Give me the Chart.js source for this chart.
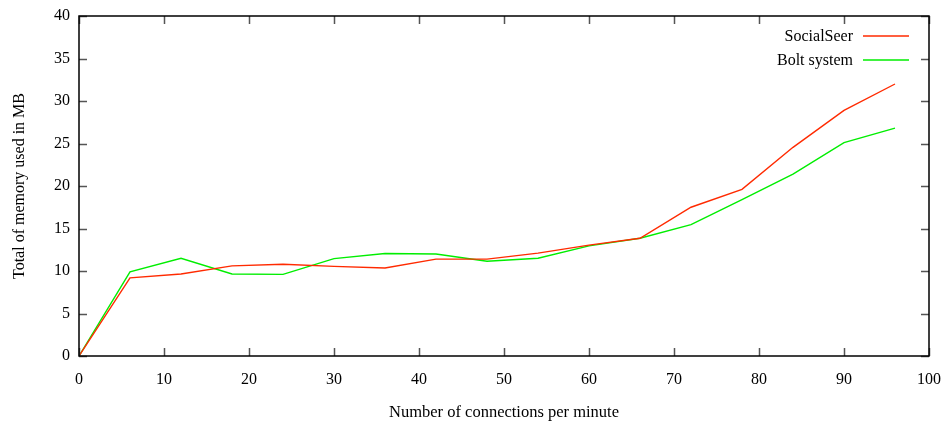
<!DOCTYPE html>
<html>
<head>
<meta charset="utf-8">
<script src="https://cdn.jsdelivr.net/npm/chart.js@4/dist/chart.umd.min.js"></script>
<style>
  html, body { margin: 0; padding: 0; background: #fff; }
  #wrap { width: 945px; height: 427px; }
</style>
</head>
<body>
<div id="wrap"><canvas id="myChart"></canvas></div>
<script>
var connections = [0, 6, 12, 18, 24, 30, 36, 42, 48, 54, 60, 66, 72, 78, 84, 90, 96];
var socialSeer = [0, 9.2, 9.65, 10.6, 10.8, 10.55, 10.35, 11.4, 11.4, 12.1, 13.05, 13.85, 17.5, 19.6, 24.55, 28.9, 32.0];
var boltSystem = [0, 9.9, 11.5, 9.65, 9.6, 11.45, 12.05, 12.0, 11.15, 11.5, 12.95, 13.85, 15.45, 18.4, 21.4, 25.1, 26.8];
var xTicks = [0, 10, 20, 30, 40, 50, 60, 70, 80, 90, 100];
var yTicks = [0, 5, 10, 15, 20, 25, 30, 35, 40];

var serif = "'Liberation Serif', 'DejaVu Serif', serif";

function toPoints(xs, ys) {
  return xs.map(function (x, i) { return { x: x, y: ys[i] }; });
}

// gnuplot style: ticks pointing into the plot on all four sides, plus legend inside
var gnuplotFrame = {
  id: "gnuplotFrame",
  afterDatasetsDraw: function (chart) {
    var ctx = chart.ctx;
    var a = chart.chartArea;
    var xs = chart.scales.x, ys = chart.scales.y;
    var len = 8;
    ctx.save();
    ctx.strokeStyle = "#555";
    ctx.lineWidth = 1.5;
    ctx.beginPath();
    xTicks.forEach(function (v) {
      var px = Math.round(xs.getPixelForValue(v)) + 0.5;
      ctx.moveTo(px, a.bottom); ctx.lineTo(px, a.bottom - len);
      ctx.moveTo(px, a.top); ctx.lineTo(px, a.top + len);
    });
    yTicks.forEach(function (v) {
      var py = Math.round(ys.getPixelForValue(v)) + 0.5;
      ctx.moveTo(a.left, py); ctx.lineTo(a.left + len, py);
      ctx.moveTo(a.right, py); ctx.lineTo(a.right - len, py);
    });
    ctx.stroke();
    ctx.strokeStyle = "#000";
    ctx.lineWidth = 1.5;
    ctx.strokeRect(a.left, a.top, a.right - a.left, a.bottom - a.top);

    // legend
    ctx.font = "16px " + serif;
    ctx.textAlign = "right";
    ctx.textBaseline = "middle";
    chart.data.datasets.forEach(function (ds, i) {
      var y = 36 + i * 24;
      ctx.fillStyle = "#000";
      ctx.fillText(ds.label, 853, y + 1);
      ctx.strokeStyle = ds.borderColor;
      ctx.lineWidth = 1.5;
      ctx.beginPath();
      ctx.moveTo(863, y); ctx.lineTo(909, y);
      ctx.stroke();
    });
    ctx.restore();
  }
};

new Chart("myChart", {
  type: "line",
  data: {
    datasets: [{
      label: "SocialSeer",
      data: toPoints(connections, socialSeer),
      borderColor: "#ff2a00",
      borderWidth: 1.4,
      pointRadius: 0,
      tension: 0
    }, {
      label: "Bolt system",
      data: toPoints(connections, boltSystem),
      borderColor: "#00ee00",
      borderWidth: 1.4,
      pointRadius: 0,
      tension: 0
    }]
  },
  options: {
    responsive: true,
    maintainAspectRatio: false,
    animation: false,
    layout: { padding: { top: 16, right: 16, left: 0, bottom: 0 } },
    plugins: {
      legend: { display: false },
      tooltip: { enabled: false }
    },
    scales: {
      x: {
        type: "linear",
        min: 0,
        max: 100,
        afterBuildTicks: function (s) { s.ticks = xTicks.map(function (v) { return { value: v }; }); },
        afterFit: function (s) { s.height = 71; s.paddingLeft = 0; s.paddingRight = 0; },
        grid: { display: false, drawTicks: false },
        border: { display: false },
        ticks: { color: "#000", font: { family: serif, size: 16 }, padding: 14, maxRotation: 0 },
        title: {
          display: true,
          text: "Number of connections per minute",
          color: "#000",
          font: { family: serif, size: 16.5 },
          padding: { top: 0, bottom: 4 }
        }
      },
      y: {
        min: 0,
        max: 40,
        afterBuildTicks: function (s) { s.ticks = yTicks.map(function (v) { return { value: v }; }); },
        afterFit: function (s) { s.width = 79; s.paddingTop = 0; s.paddingBottom = 0; },
        grid: { display: false, drawTicks: false },
        border: { display: false },
        ticks: { color: "#000", font: { family: serif, size: 16 }, padding: 9 },
        title: {
          display: true,
          text: "Total of memory used in MB",
          color: "#000",
          font: { family: serif, size: 16 },
          padding: { top: 10, bottom: 0 }
        }
      }
    }
  },
  plugins: [gnuplotFrame]
});
</script>
</body>
</html>
